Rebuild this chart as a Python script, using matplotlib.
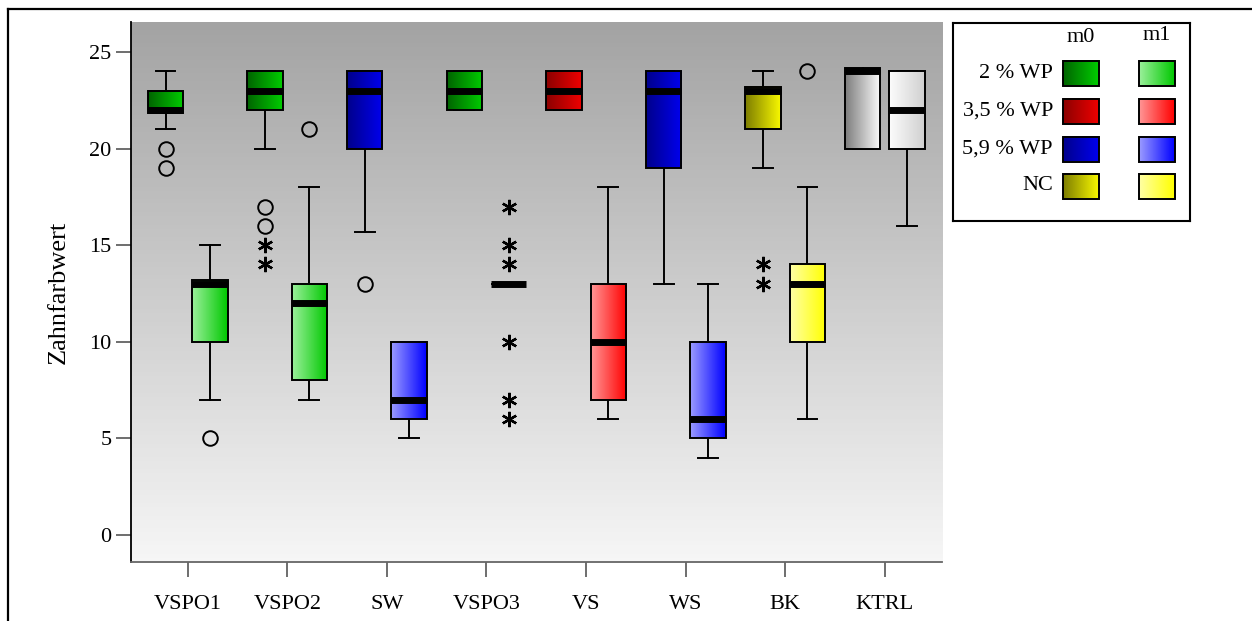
import numpy as np
import matplotlib
matplotlib.use('Agg')
import matplotlib.pyplot as plt
from matplotlib.lines import Line2D
from matplotlib.patches import Rectangle

plt.rcParams['font.family'] = ['Liberation Serif', 'DejaVu Serif']

# Daten
groups = ['VSPO1', 'VSPO2', 'SW', 'VSPO3', 'VS', 'WS', 'BK', 'KTRL']

# m0
whislo_m0 = [21, 20, 15.7, 22, 22, 13, 19, 20]
q1_m0 = [22, 22, 20, 22, 22, 19, 21, 20]
med_m0 = [22, 23, 23, 23, 23, 23, 23, 24]
q3_m0 = [23, 24, 24, 24, 24, 24, 23, 24]
whishi_m0 = [24, 24, 24, 24, 24, 24, 24, 24]
circ_m0 = {'VSPO1': [20, 19], 'VSPO2': [17, 16], 'SW': [13]}
star_m0 = {'VSPO2': [15, 14], 'BK': [14, 13]}

# m1
whislo_m1 = [7, 7, 5, 13, 6, 4, 6, 16]
q1_m1 = [10, 8, 6, 13, 7, 5, 10, 20]
med_m1 = [13, 12, 7, 13, 10, 6, 13, 22]
q3_m1 = [13, 13, 10, 13, 13, 10, 14, 24]
whishi_m1 = [15, 18, 10, 13, 18, 13, 18, 24]
circ_m1 = {'VSPO1': [5], 'VSPO2': [21], 'BK': [24]}
star_m1 = {'VSPO3': [17, 15, 14, 10, 7, 6]}

# Farbverlauf links -> rechts
grad_m0 = {'green': ((0, 100, 0), (0, 205, 0)),
           'red': ((140, 0, 0), (238, 0, 0)),
           'blue': ((0, 0, 140), (0, 0, 238)),
           'yellow': ((125, 125, 0), (248, 248, 0)),
           'gray': ((125, 125, 125), (252, 252, 252))}
grad_m1 = {'green': ((155, 240, 155), (0, 200, 0)),
           'red': ((255, 150, 150), (255, 0, 0)),
           'blue': ((155, 155, 255), (0, 0, 255)),
           'yellow': ((255, 255, 165), (255, 255, 0)),
           'gray': ((252, 252, 252), (208, 208, 208))}
group_color = ['green', 'green', 'blue', 'green', 'red', 'blue', 'yellow', 'gray']
legend_rows = ['2 % WP', '3,5 % WP', '5,9 % WP', 'NC']
legend_keys = ['green', 'red', 'blue', 'yellow']


def gradient(c0, c1, n=64):
    t = np.linspace(0, 1, n)[None, :, None]
    return (np.array(c0)[None, None, :] * (1 - t) + np.array(c1)[None, None, :] * t) / 255.0


fig = plt.figure(figsize=(12.52, 6.21), dpi=100)
ax = fig.add_axes([131 / 1252, 59 / 621, 811 / 1252, 540 / 621])

# Hintergrund
bg = np.linspace(0.64, 0.965, 128)[:, None]
bg = np.dstack([bg, bg, bg])
ax.imshow(bg[::-1], extent=[0, 1, 0, 1], transform=ax.transAxes, aspect='auto',
          origin='lower', zorder=0)

pos = np.arange(1, len(groups) + 1)
off = 0.2225
width = 0.355
half_band = 0.18  # halbe Dicke des Medianbalkens in Dateneinheiten


def make_stats(lo, q1, med, q3, hi):
    out = []
    for a, b, c, d, e in zip(lo, q1, med, q3, hi):
        if d > b:
            b = min(b, c - half_band)
            d = max(d, c + half_band)
        out.append(dict(whislo=a, q1=b, med=c, q3=d, whishi=e, fliers=[]))
    return out


props = dict(patch_artist=True, widths=width, showfliers=False, capwidths=0.2,
             boxprops=dict(facecolor='none', edgecolor='black', linewidth=1.4, zorder=3),
             whiskerprops=dict(color='black', linewidth=1.4, zorder=2),
             capprops=dict(color='black', linewidth=1.4, zorder=2),
             medianprops=dict(color='black', linewidth=5, solid_capstyle='butt', zorder=4))

b0 = ax.bxp(make_stats(whislo_m0, q1_m0, med_m0, q3_m0, whishi_m0), positions=pos - off, **props)
b1 = ax.bxp(make_stats(whislo_m1, q1_m1, med_m1, q3_m1, whishi_m1), positions=pos + off, **props)

for res, grads in ((b0, grad_m0), (b1, grad_m1)):
    for i, box in enumerate(res['boxes']):
        v = box.get_path().vertices
        x0, x1 = v[:, 0].min(), v[:, 0].max()
        y0, y1 = v[:, 1].min(), v[:, 1].max()
        if y1 - y0 < 1e-6:
            continue
        c0, c1 = grads[group_color[i]]
        ax.imshow(gradient(c0, c1), extent=[x0, x1, y0, y1], aspect='auto', zorder=2.5)

# Ausreisser
for d, sh in ((circ_m0, -off), (circ_m1, off)):
    for g, vals in d.items():
        x = groups.index(g) + 1 + sh
        ax.plot([x] * len(vals), vals, linestyle='none', marker='o', ms=10.5,
                mfc='none', mec='black', mew=1.4, zorder=5)
for d, sh in ((star_m0, -off), (star_m1, off)):
    for g, vals in d.items():
        x = groups.index(g) + 1 + sh
        ax.plot([x] * len(vals), vals, linestyle='none', marker=(6, 2, 0), ms=11,
                mec='black', mew=1.7, zorder=5)

ax.set_xlim(0.431, 8.573)
ax.set_ylim(-1.4, 26.55)
ax.set_xticks(pos)
ax.set_xticklabels(groups)
ax.set_yticks([0, 5, 10, 15, 20, 25])
ax.tick_params(axis='both', direction='out', length=11, width=1.2, colors='#555555',
               labelsize=16, labelcolor='black')
ax.tick_params(axis='y', pad=3)
ax.tick_params(axis='x', pad=13)
for s in ('top', 'right'):
    ax.spines[s].set_visible(False)
ax.spines['left'].set_color('black')
ax.spines['left'].set_linewidth(1.3)
ax.spines['bottom'].set_color('#666666')
ax.spines['bottom'].set_linewidth(1.3)
ax.set_ylabel('Zahnfarbwert', fontsize=19, labelpad=14)

# Legende
lax = fig.add_axes([953 / 1252, (621 - 221) / 621, (1190 - 953) / 1252, (221 - 23) / 621])
lax.set_xlim(953, 1190)
lax.set_ylim(221, 23)
lax.set_xticks([])
lax.set_yticks([])
for s in lax.spines.values():
    s.set_linewidth(1.5)
lax.text(1081, 37, 'm0', ha='center', va='center', fontsize=16)
lax.text(1157, 36, 'm1', ha='center', va='center', fontsize=16)
rows_y = [73, 111, 149, 186]
for lab, key, yy in zip(legend_rows, legend_keys, rows_y):
    lax.text(1053, yy, lab, ha='right', va='center', fontsize=16)
    for xl, grads in ((1063, grad_m0), (1139, grad_m1)):
        c0, c1 = grads[key]
        lax.imshow(gradient(c0, c1), extent=[xl, xl + 36, yy + 12.5, yy - 12.5],
                   aspect='auto', zorder=1)
        lax.add_patch(Rectangle((xl, yy - 12.5), 36, 25, fill=False, ec='black', lw=1.4, zorder=2))
lax.set_xlim(953, 1190)
lax.set_ylim(221, 23)

# Rahmen
fig.add_artist(Line2D([8 / 1252, 1], [1 - 9 / 621, 1 - 9 / 621], transform=fig.transFigure,
                      color='black', lw=1.6))
fig.add_artist(Line2D([8 / 1252, 8 / 1252], [0, 1 - 9 / 621], transform=fig.transFigure,
                      color='black', lw=1.6))

fig.savefig('out.png', dpi=100)
